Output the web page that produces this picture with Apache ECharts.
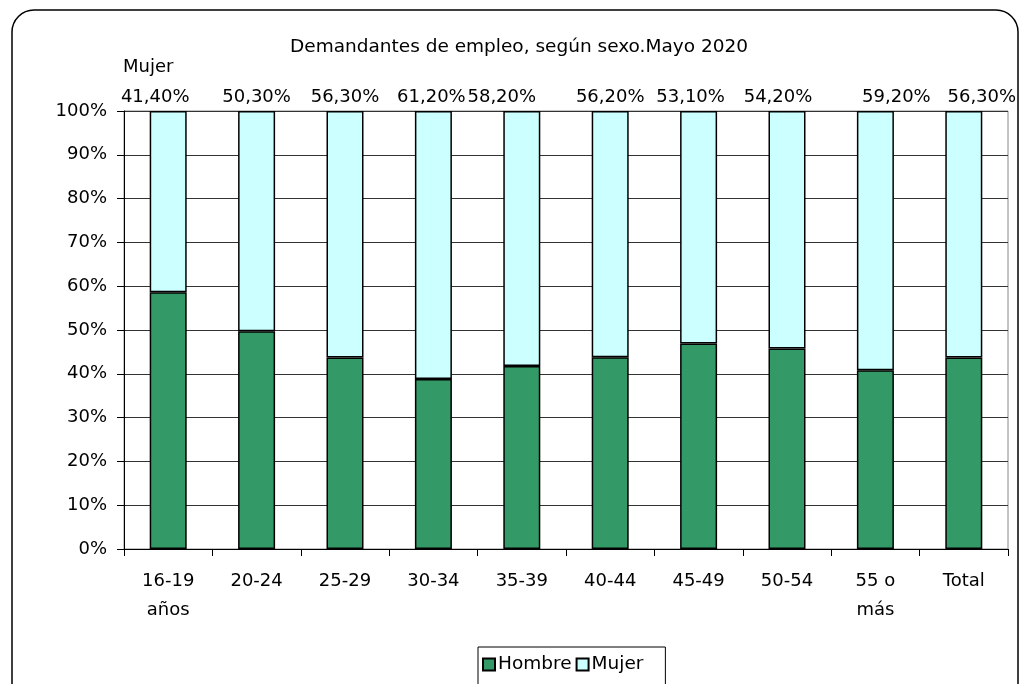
<!DOCTYPE html>
<html>
<head>
<meta charset="utf-8">
<script src="https://cdn.jsdelivr.net/npm/echarts@6/dist/echarts.min.js"></script>
<style>html,body{margin:0;padding:0;background:#fff;}#c{width:1021px;height:684px;}</style>
</head>
<body>
<div id="c"></div>
<script>
const categories = ['16-19\naños', '20-24', '25-29', '30-34', '35-39', '40-44', '45-49', '50-54', '55 o\nmás', 'Total'];
const mujer = [41.4, 50.3, 56.3, 61.2, 58.2, 56.2, 53.1, 54.2, 59.2, 56.3];
const hombre = [58.6, 49.7, 43.7, 38.8, 41.8, 43.8, 46.9, 45.8, 40.8, 43.7];
const yTicks = [0, 10, 20, 30, 40, 50, 60, 70, 80, 90, 100];
const labelOffsets = [-13, 0, 0, -2, -20, 0, -8, -9, 21, 18];

const FONT = 'DejaVu Sans';
const chart = echarts.init(document.getElementById('c'));
const fmt = v => v.toFixed(2).replace('.', ',') + '%';

chart.setOption({
  animation: false,
  textStyle: { fontFamily: FONT },
  title: {
    text: 'Demandantes de empleo, según sexo.Mayo 2020',
    left: 514, top: 33, textAlign: 'center',
    textStyle: { fontFamily: FONT, fontSize: 18.5, fontWeight: 'normal', color: '#000' }
  },
  graphic: [{
    type: 'rect', z: -1,
    shape: { x: 12, y: 10, width: 1006, height: 720, r: 22 },
    style: { fill: 'none', stroke: '#000', lineWidth: 1.5 }
  }],
  legend: {
    data: ['Hombre', 'Mujer'],
    left: 478, top: 647,
    borderColor: '#000', borderWidth: 1,
    padding: [8, 22, 14, 4],
    itemGap: 4, itemWidth: 12, itemHeight: 12,
    icon: 'rect',
    textStyle: { fontFamily: FONT, fontSize: 18.5, color: '#000', padding: [0, 0, 0, -2] }
  },
  grid: {
    left: 124, right: 13, top: 111, bottom: 135,
    show: true, borderColor: '#888', borderWidth: 1
  },
  xAxis: {
    type: 'category', data: categories,
    axisLine: { lineStyle: { color: '#000', width: 1 } },
    axisTick: { show: true, alignWithLabel: false, length: 7, lineStyle: { color: '#000' } },
    axisLabel: { fontFamily: FONT, fontSize: 18, color: '#000', margin: 18, lineHeight: 29, interval: 0 }
  },
  yAxis: {
    type: 'value', min: 0, max: 100, interval: 10,
    axisLine: { show: true, lineStyle: { color: '#000', width: 1 } },
    axisTick: { show: true, length: 7, lineStyle: { color: '#000' } },
    axisLabel: { fontFamily: FONT, fontSize: 18, color: '#000', margin: 17, formatter: '{value}%' },
    splitLine: { lineStyle: { color: '#333', width: 1 } }
  },
  series: [
    {
      name: 'Hombre', type: 'bar', stack: 's', barWidth: 37,
      data: hombre,
      itemStyle: { color: '#339966', borderColor: '#000', borderWidth: 1.5 }
    },
    {
      name: 'Mujer', type: 'bar', stack: 's', barWidth: 37,
      data: mujer.map((v, i) => ({
        value: v,
        label: {
          offset: [labelOffsets[i], 0],
          formatter: i === 0 ? '{a|Mujer}\n{b|' + fmt(v) + '}' : '{b|' + fmt(v) + '}'
        }
      })),
      itemStyle: { color: '#CCFFFF', borderColor: '#000', borderWidth: 1.5 },
      label: {
        show: true, position: 'top', distance: 4, fontFamily: FONT, fontSize: 18, color: '#000',
        rich: {
          a: { fontFamily: FONT, fontSize: 18, color: '#000', lineHeight: 40, padding: [0, 14, 0, 0] },
          b: { fontFamily: FONT, fontSize: 18, color: '#000', lineHeight: 20 }
        }
      }
    }
  ]
});
</script>
</body>
</html>
